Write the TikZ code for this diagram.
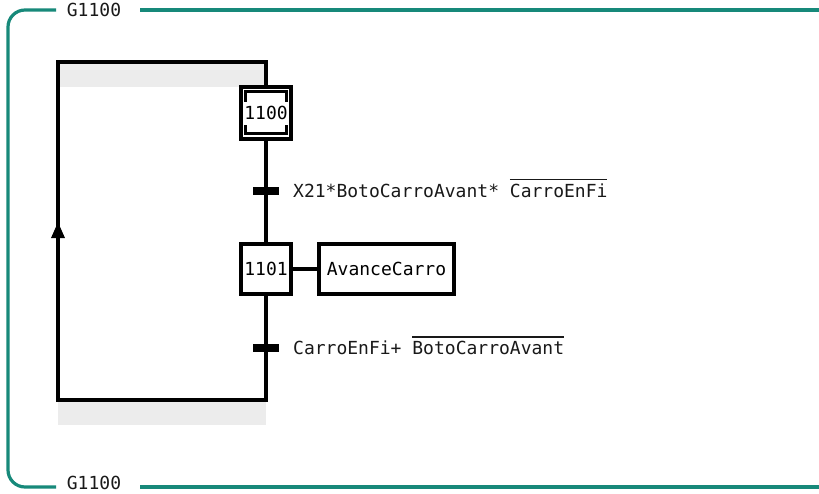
\documentclass[tikz,border=0pt]{standalone}
\usepackage{fontspec}
\setmonofont{DejaVu Sans Mono}
\usetikzlibrary{positioning}
\usetikzlibrary{arrows.meta}
\definecolor{grafcet}{HTML}{17897A}
\definecolor{bandgrey}{HTML}{ECECEC}
\newcommand{\gfont}{\fontsize{18}{21}\selectfont\ttfamily}
% senyal negat: barra per sobre del nom
\newcommand{\negat}[1]{\vbox{\hrule height 1.3pt \kern 3pt \hbox{#1}}}

\tikzset{
  etape/.style={draw, line width=3.2pt, minimum width=50pt, minimum height=50pt, inner sep=0pt, font=\gfont},
  accio/.style={draw, line width=3.2pt, minimum width=135pt, minimum height=50pt, inner sep=0pt, font=\gfont},
  transicio/.style={fill=black, minimum width=26pt, minimum height=8pt, inner sep=0pt},
  receptivitat/.style={anchor=base west, inner sep=0pt, font=\gfont, text=black!90},
  enllac/.style={line width=3.2pt},
  marc/.style={grafcet, line width=3.2pt},
  titol/.style={font=\gfont, text=black!90, inner sep=0pt},
}

\begin{document}
\begin{tikzpicture}[x=1pt,y=-1pt]
  \useasboundingbox (0,0) rectangle (819,493);

  % bandes grises de la realimentacio
  \fill[bandgrey] (58,62) rectangle (266,87);
  \fill[bandgrey] (58,400) rectangle (266,425);

  % marc del grafcet G1100
  \draw[marc, rounded corners=17pt] (56,10) -- (8,10) -- (8,487) -- (56,487);
  \draw[marc] (140,10) -- (819,10);
  \draw[marc] (140,487) -- (819,487);
  \node[titol] (titolsup) at (94,10) {G1100};
  \node[titol] (titolinf) at (94,483) {G1100};

  % etapes
  \node[etape, minimum height=52pt] (e1100) at (266,113) {};
  \draw[line width=3.2pt] ([shift={(6pt,7pt)}]e1100.south west) rectangle ([shift={(-6pt,-6pt)}]e1100.north east);
  \node[fill=white, inner sep=0pt, minimum height=23pt, font=\gfont] (t1100) at (e1100) {1100};

  \node[etape] (e1101) at (266,269) {1101};
  \node[accio] (a1101) at (386.5,269) {AvanceCarro};
  \draw[enllac] (e1101) -- (a1101);

  % transicions
  \node[transicio] (t1) at (266,191) {};
  \node[transicio] (t2) at (266,348) {};
  \node[receptivitat] (r1) at (293,197) {X21*BotoCarroAvant* \negat{CarroEnFi}};
  \node[receptivitat] (r2) at (293,354) {CarroEnFi+ \negat{BotoCarroAvant}};

  % enllacos
  \coordinate (baix) at (266,400);
  \coordinate (baixesq) at (58,400);
  \coordinate (fletxa) at (58,222);
  \coordinate (daltesq) at (58,62);
  \coordinate (dalt) at (266,62);

  \draw[enllac] (e1100.south) -- (e1101.north);
  \draw[enllac] (e1101.south) -- (baix) -- (baixesq) -- (daltesq) -- (dalt) -- (e1100.north);
  \draw[enllac, -{Triangle[width=13pt,length=16pt]}] (baixesq) -- (fletxa);
\end{tikzpicture}
\end{document}
